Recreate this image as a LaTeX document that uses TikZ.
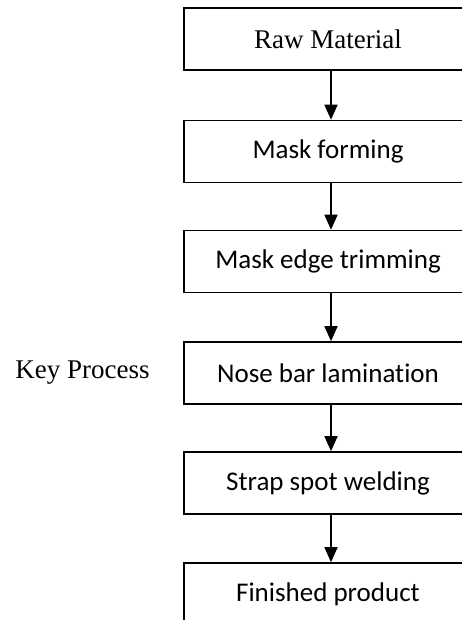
\documentclass[tikz,border=0pt]{standalone}
\usepackage{fontspec}
\setmainfont{Liberation Serif}
\newfontfamily\stagefont[Ligatures=NoCommon]{Carlito}
\usetikzlibrary{arrows.meta}
\begin{document}
\begin{tikzpicture}[x=1pt,y=-1pt,
  stage/.style={draw, line width=1.6pt, minimum width=288pt, minimum height=62pt,
    inner sep=0pt, font=\stagefont\fontsize{27}{32}\selectfont},
  serifstage/.style={stage, font=\rmfamily\fontsize{27}{32}\selectfont},
  flow/.style={line width=1.6pt, -{Triangle[width=13pt,length=15pt]}},
  note/.style={font=\rmfamily\fontsize{27}{32}\selectfont, inner sep=0pt}]
\useasboundingbox (0,0) rectangle (462,620);
\clip (0,0) rectangle (462,620);

% process stages, top to bottom
\node[serifstage] (raw)    at (328,39)    {Raw Material};
\node[stage]      (form)   at (328,151.5) {Mask forming};
\node[stage]      (trim)   at (328,261.5) {Mask edge trimming};
\node[stage]      (nose)   at (328,373)   {Nose bar lamination};
\node[stage]      (strap)  at (328,483)   {Strap spot welding};
\node[stage]      (final)  at (328,594)   {Finished product};

% side label
\node[note] (key) at (82.5,373) {Key Process};

% connectors, a little right of the box centres
\draw[flow] ([xshift=3pt]raw.south)   -- ([xshift=3pt]form.north);
\draw[flow] ([xshift=3pt]form.south)  -- ([xshift=3pt]trim.north);
\draw[flow] ([xshift=3pt]trim.south)  -- ([xshift=3pt]nose.north);
\draw[flow] ([xshift=3pt]nose.south)  -- ([xshift=3pt]strap.north);
\draw[flow] ([xshift=3pt]strap.south) -- ([xshift=3pt]final.north);
\end{tikzpicture}
\end{document}
